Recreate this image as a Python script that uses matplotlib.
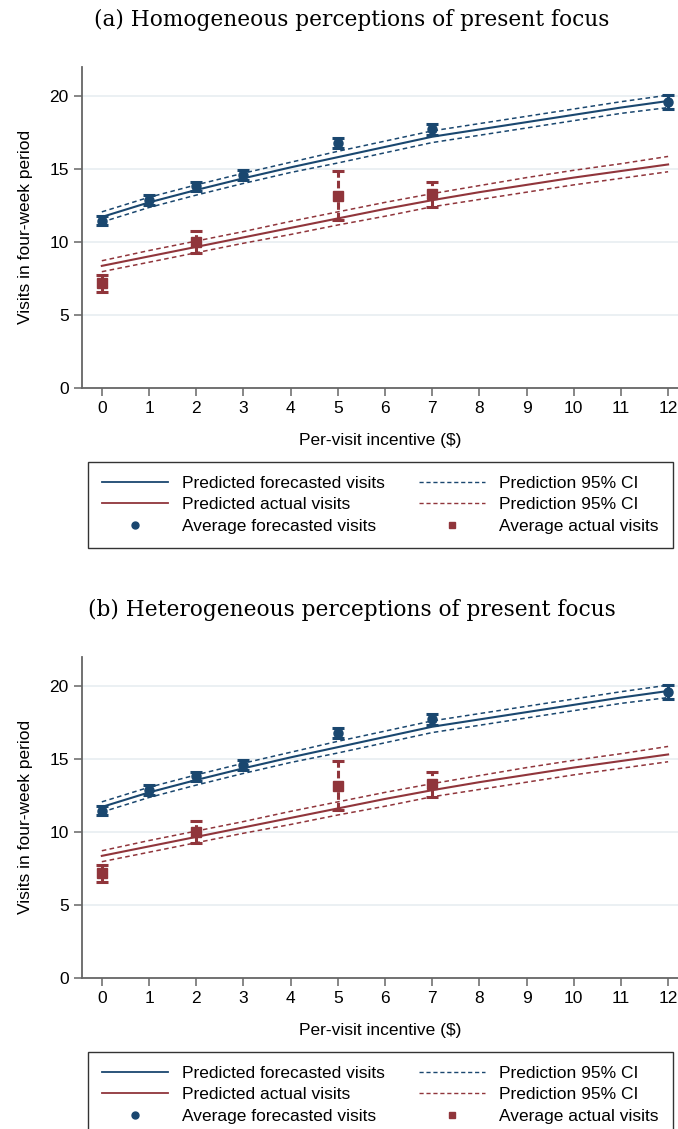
import matplotlib
matplotlib.use("Agg")
import matplotlib.pyplot as plt
from matplotlib.lines import Line2D

plt.rcParams['font.family'] = ['Liberation Sans', 'DejaVu Sans']

# model predictions at each incentive level
x_pred = [0, 1, 2, 3, 4, 5, 6, 7, 8, 9, 10, 11, 12]
fc_pred = [11.7, 12.7, 13.55, 14.35, 15.1, 15.8, 16.5, 17.2, 17.7, 18.2, 18.7, 19.2, 19.65]
fc_hi = [12.05, 13.05, 13.9, 14.7, 15.45, 16.2, 16.9, 17.6, 18.1, 18.6, 19.1, 19.6, 20.05]
fc_lo = [11.35, 12.35, 13.2, 14.0, 14.75, 15.4, 16.1, 16.8, 17.3, 17.8, 18.3, 18.8, 19.2]
ac_pred = [8.35, 9.0, 9.65, 10.3, 10.95, 11.6, 12.25, 12.85, 13.4, 13.9, 14.4, 14.85, 15.3]
ac_hi = [8.7, 9.4, 10.05, 10.7, 11.4, 12.05, 12.7, 13.3, 13.85, 14.4, 14.9, 15.35, 15.85]
ac_lo = [7.95, 8.6, 9.25, 9.9, 10.5, 11.15, 11.75, 12.4, 12.9, 13.4, 13.9, 14.35, 14.8]

# observed averages with confidence bars
x_fc = [0, 1, 2, 3, 5, 7, 12]
fc_avg = [11.45, 12.86, 13.79, 14.6, 16.75, 17.7, 19.6]
fc_bar_lo = [11.14, 12.5, 13.45, 14.25, 16.4, 17.35, 19.12]
fc_bar_hi = [11.78, 13.2, 14.1, 14.95, 17.1, 18.05, 20.04]

x_ac = [0, 2, 5, 7]
ac_avg = [7.19, 10.0, 13.16, 13.29]
ac_bar_lo = [6.58, 9.25, 11.49, 12.4]
ac_bar_hi = [7.72, 10.73, 14.84, 14.1]

titles = ['(a) Homogeneous perceptions of present focus',
          '(b) Heterogeneous perceptions of present focus']
x_ticks = list(range(13))
y_ticks = [0, 5, 10, 15, 20]

BLUE = '#1a476f'
RED = '#90353b'
GREY = '#666666'
FS = 12.5

W, H = 678, 1129
fig = plt.figure(figsize=(W / 100, H / 100), dpi=100)


def draw_panel(off, title):
    # off = vertical pixel offset of the panel
    bottom = 387.7 + off
    top = 66.7 + off
    ax = fig.add_axes([82 / W, (H - bottom) / H, (W - 82) / W, (bottom - top) / H])
    ax.set_xlim(-0.42, 12.21)
    ax.set_ylim(0, 22)

    for y in y_ticks[1:]:
        ax.axhline(y, color='#e8eef1', lw=1.2, zorder=0)

    ax.plot(x_pred, fc_pred, color=BLUE, lw=1.5)
    ax.plot(x_pred, fc_hi, color=BLUE, lw=1.1, ls=(0, (3, 2.2)))
    ax.plot(x_pred, fc_lo, color=BLUE, lw=1.1, ls=(0, (3, 2.2)))
    ax.plot(x_pred, ac_pred, color=RED, lw=1.5)
    ax.plot(x_pred, ac_hi, color=RED, lw=1.1, ls=(0, (3, 2.2)))
    ax.plot(x_pred, ac_lo, color=RED, lw=1.1, ls=(0, (3, 2.2)))

    for xs, mid, lo, hi, c, m in [(x_fc, fc_avg, fc_bar_lo, fc_bar_hi, BLUE, 'o'),
                                  (x_ac, ac_avg, ac_bar_lo, ac_bar_hi, RED, 's')]:
        err = [[a - b for a, b in zip(mid, lo)], [b - a for a, b in zip(mid, hi)]]
        eb = ax.errorbar(xs, mid, yerr=err, fmt='none', ecolor=c, elinewidth=2.2,
                         capsize=4.2, capthick=2.2, zorder=3)
        eb[2][0].set_linestyle((0, (2.5, 1)))
        ax.plot(xs, mid, ls='none', marker=m, color=c, ms=6.5, zorder=4)

    for s in ['top', 'right']:
        ax.spines[s].set_visible(False)
    for s in ['left', 'bottom']:
        ax.spines[s].set_color(GREY)
        ax.spines[s].set_linewidth(1.3)
    ax.set_xticks(x_ticks)
    ax.set_yticks(y_ticks)
    ax.tick_params(axis='both', colors=GREY, labelcolor='black', length=6,
                   width=1.1, labelsize=FS)
    ax.set_xlabel('Per-visit incentive ($)', fontsize=FS, labelpad=12)
    ax.set_ylabel('Visits in four-week period', fontsize=FS, labelpad=12)

    fig.text(352 / W, 1 - (20 + off) / H, title,
             family='DejaVu Serif', fontsize=15.6, ha='center', va='center')

    handles = [Line2D([], [], color=BLUE, lw=1.3),
               Line2D([], [], color=RED, lw=1.3),
               Line2D([], [], ls='none', marker='o', color=BLUE, ms=5),
               Line2D([], [], color=BLUE, lw=1.0, ls=(0, (3, 2))),
               Line2D([], [], color=RED, lw=1.0, ls=(0, (3, 2))),
               Line2D([], [], ls='none', marker='s', color=RED, ms=5)]
    labels = ['Predicted forecasted visits', 'Predicted actual visits',
              'Average forecasted visits', 'Prediction 95% CI',
              'Prediction 95% CI', 'Average actual visits']
    leg = fig.legend(handles, labels, ncol=2, loc='upper left',
                     bbox_to_anchor=(88 / W, 1 - (462 + off) / H),
                     fontsize=FS, frameon=True, fancybox=False,
                     edgecolor='black', handlelength=3.8, handletextpad=0.8,
                     labelspacing=0.36, borderpad=0.8, columnspacing=2.0,
                     borderaxespad=0)
    leg.get_frame().set_linewidth(1.0)


draw_panel(0, titles[0])
draw_panel(590, titles[1])

plt.savefig('out.png', dpi=100)
